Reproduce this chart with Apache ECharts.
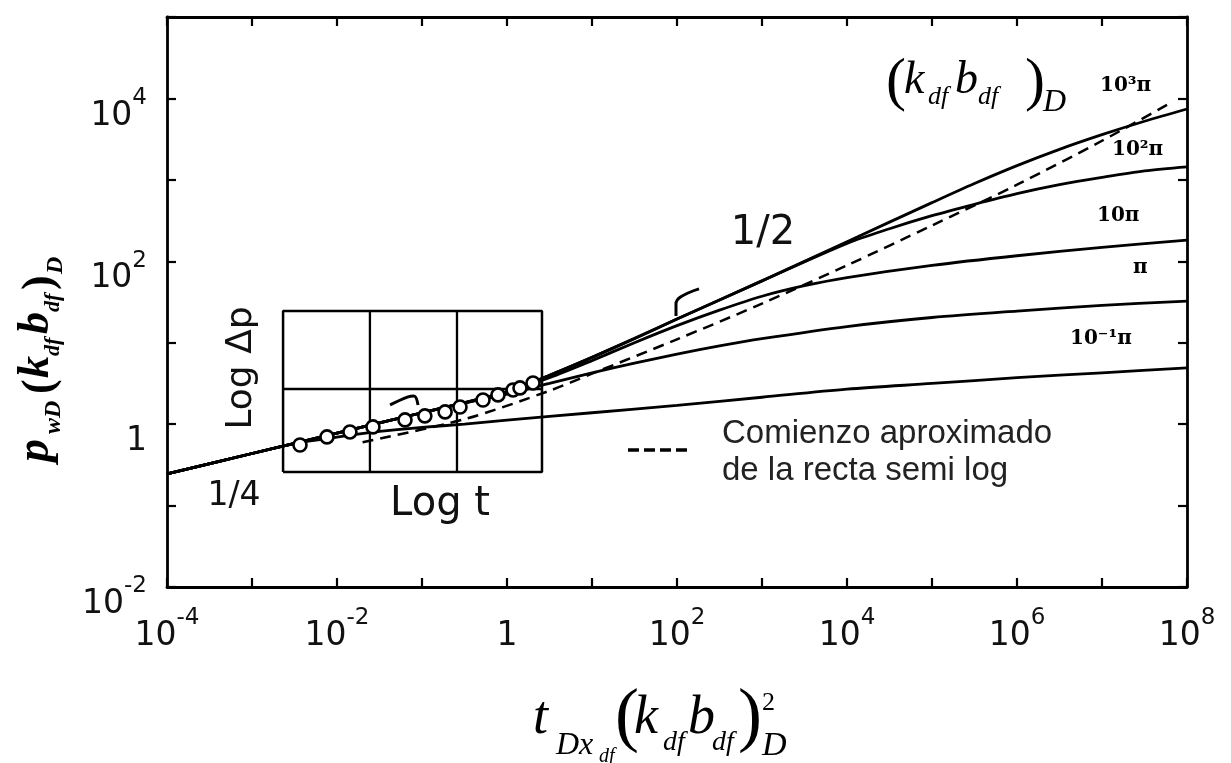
<!DOCTYPE html>
<html><head><meta charset="utf-8">
<script src="https://cdn.jsdelivr.net/npm/echarts@6/dist/echarts.min.js"></script>
<style>html,body{margin:0;padding:0;background:#fff}#c{width:1231px;height:763px}</style>
</head><body><div id="c"></div>
<script>
// ---- tick labels (exponents of 10 that carry a label) ----
const xLabelExps = [-4, -2, 0, 2, 4, 6, 8];
const yLabelExps = [-2, 0, 2, 4];
const curveNames = ['10³π', '10²π', '10π', 'π', '10⁻¹π'];

// ---- curves, [t, p] pairs ----
const curve1000pi = [[1e-4,0.245],[1e-3,0.436],[1e-2,0.776],[0.1,1.38],[1,2.51],[3.16,3.98],[10,6.61],[31.6,11.2],[100,19.5],[1e3,57.5],[1e4,174],[1e5,525],[3.16e5,902],[1e6,1496],[3.16e6,2371],[1e7,3589],[3.16e7,5248],[1e8,7413]];
const curve100pi = [[1e-4,0.245],[1e-3,0.436],[1e-2,0.776],[0.1,1.38],[1,2.51],[3.16,3.98],[10,6.61],[100,19.5],[1e3,57.5],[1e4,166],[3.16e4,251],[1e5,363],[3.16e5,501],[1e6,676],[3.16e6,871],[1e7,1072],[3.16e7,1288],[1e8,1445]];
const curve10pi = [[1e-4,0.245],[1e-3,0.436],[1e-2,0.776],[0.1,1.38],[1,2.45],[3.16,3.72],[10,6.03],[31.6,10.0],[100,16.2],[316,25.1],[1e3,37.2],[3.16e3,50.1],[1e4,63.1],[1e5,89.1],[1e6,117],[1e7,148],[1e8,182]];
const curve1pi = [[1e-4,0.245],[1e-3,0.436],[1e-2,0.776],[0.1,1.38],[0.316,1.82],[1,2.34],[3.16,3.16],[10,4.27],[31.6,5.62],[100,7.24],[316,9.12],[1e3,11.2],[1e4,15.8],[1e5,20.4],[1e6,24.5],[1e7,28.8],[1e8,32.4]];
const curve01pi = [[1e-4,0.245],[1e-3,0.436],[3.16e-3,0.575],[1e-2,0.692],[3.16e-2,0.813],[0.1,0.912],[0.316,1.0],[1,1.12],[10,1.38],[100,1.70],[1e3,2.14],[1e4,2.69],[1e5,3.16],[1e6,3.72],[1e7,4.27],[1e8,4.90]];
const semiLogStart = [[0.02,0.6],[0.316,1.15],[3.16,2.57],[10,4.17],[100,11.0],[1e3,30.2],[1e4,89.1],[1e5,275],[1e6,871],[1e7,3020],[6.3e7,8710]];
const fieldPoints = [[0.00367,0.555],[0.00762,0.697],[0.0142,0.802],[0.0265,0.925],[0.0631,1.127],[0.108,1.262],[0.187,1.413],[0.280,1.626],[0.522,1.982],[0.783,2.286],[1.178,2.630],[1.422,2.786],[2.023,3.206]];
// inset sketch (log t / log Δp) grid, in chart units
const insetX = [0.00232, 0.0244, 0.258, 2.58];
const insetY = [0.259, 2.70, 24.6];
const hookA = [[97.3,21.3],[97.3,30.0],[111,36.6],[181.6,45.8]];
const hookB = [[0.0421,1.72],[0.0684,2.16],[0.0805,2.22],[0.0898,1.72]];

const chart = echarts.init(document.getElementById('c'), null, {renderer:'canvas'});

function expOf(v){ return Math.round(Math.log10(v)); }
function fmt(list){
  return function(v){
    const e = expOf(v);
    if (list.indexOf(e) < 0) return '';
    if (e === 0) return '{n|1}';
    return '{n|10}{s|' + e + '}';
  };
}
const labelRich = {
  n: {fontSize: 33, fontFamily: 'DejaVu Sans', color: '#111', lineHeight: 46, verticalAlign: 'bottom'},
  s: {fontSize: 23, fontFamily: 'DejaVu Sans', color: '#111', lineHeight: 26, verticalAlign: 'top'}
};
const axLine = {show: true, onZero: false, lineStyle: {color: '#000', width: 2.8}};
const axTick = {show: true, inside: true, length: 9, lineStyle: {color: '#000', width: 2.2}};

function lineSeries(data, opts){
  opts = opts || {};
  return {
    type: 'line', data: data, xAxisIndex: 0, yAxisIndex: 0,
    symbol: 'none', smooth: opts.smooth === undefined ? 0.3 : opts.smooth,
    lineStyle: {color: '#000', width: opts.w || 2.8, type: opts.dash ? [11, 7] : 'solid'},
    silent: true, z: opts.z || 3
  };
}

const series = [
  lineSeries(curve01pi), lineSeries(curve1pi), lineSeries(curve10pi),
  lineSeries(curve100pi), lineSeries(curve1000pi),
  lineSeries(semiLogStart, {dash: true, w: 2.5}),
  lineSeries([[insetX[0],insetY[0]],[insetX[3],insetY[0]],[insetX[3],insetY[2]],[insetX[0],insetY[2]],[insetX[0],insetY[0]]], {smooth:false, w:2.5}),
  lineSeries([[insetX[1],insetY[0]],[insetX[1],insetY[2]]], {smooth:false, w:2.3}),
  lineSeries([[insetX[2],insetY[0]],[insetX[2],insetY[2]]], {smooth:false, w:2.3}),
  lineSeries([[insetX[0],insetY[1]],[insetX[3],insetY[1]]], {smooth:false, w:2.3}),
  lineSeries(hookA, {smooth:0.4, w:3}),
  lineSeries(hookB, {smooth:0.4, w:3}),
  {type:'scatter', data: fieldPoints, xAxisIndex:0, yAxisIndex:0, symbol:'circle', symbolSize: 13,
   itemStyle:{color:'#fff', borderColor:'#000', borderWidth:2.6, opacity:1}, z: 6, silent: true}
];

// ---- texts ----
function txt(s, x, base, size, o){
  o = o || {};
  return {type:'text', x: x, y: base - 0.34*size, z: 50, silent: true,
    style:{text: s, fontSize: size, fontFamily: o.f || 'Liberation Serif',
      fontStyle: o.i ? 'italic' : 'normal', fontWeight: o.b ? 'bold' : 'normal',
      fill: o.c || '#000', align: o.a || 'left', verticalAlign: 'middle'}};
}
const BI = {i:true, b:true};
const I = {i:true};
const yTitle = {type:'group', x: 52, y: 462, rotation: Math.PI/2, children: [
  txt('p', 0, 0, 46, BI), txt('wD', 28, 10, 24, BI), txt('(', 68, 4, 44, {b:true}),
  txt('k', 84, 0, 44, BI), txt('df', 106, 9, 22, BI), txt('b', 128, 0, 44, BI),
  txt('df', 150, 9, 22, BI), txt(')', 172, 4, 44, {b:true}), txt('D', 188, 12, 24, BI)
]};
const xTitle = [
  txt('t', 533, 737, 54, I), txt('Dx', 556, 756, 32, I), txt('df', 599, 764, 20, I),
  txt('(', 615, 744, 72), txt('k', 634, 737, 54, I), txt('df', 663, 752, 28, I),
  txt('b', 688, 737, 54, I), txt('df', 712, 752, 28, I), txt(')', 738, 744, 72),
  txt('2', 762, 712, 26), txt('D', 762, 758, 34, I)
];
const topTitle = [
  txt('(', 886, 104, 60), txt('k', 904, 97, 46, I), txt('df', 928, 106, 26, I),
  txt('b', 955, 97, 46, I), txt('df', 978, 106, 26, I), txt(')', 1025, 104, 60),
  txt('D', 1043, 113, 32, I)
];
const curveLabelPos = [[1100,93],[1112,157],[1097,223],[1133,275],[1070,346]];
const curveLabelTexts = curveNames.map(function(n, i){
  return txt(n, curveLabelPos[i][0], curveLabelPos[i][1], 20, {b:true, f:'DejaVu Serif'});
});
const misc = [
  {type:'group', x: 254, y: 368, rotation: Math.PI/2, children:[txt('Log Δp', 0, 0, 36, {f:'DejaVu Sans', c:'#111', a:'center'})]},
  txt('Log t', 440, 518, 40, {f:'DejaVu Sans', c:'#111', a:'center'}),
  txt('1/4', 234, 508, 33, {f:'DejaVu Sans', c:'#111', a:'center'}),
  txt('1/2', 763, 247, 40, {f:'DejaVu Sans', c:'#111', a:'center'}),
  {type:'line', z:50, silent:true, shape:{x1:628,y1:450,x2:690,y2:450}, style:{stroke:'#000', lineWidth:3.5, lineDash:[11,5]}},
  txt('Comienzo aproximado', 722, 445, 33, {f:'Liberation Sans', c:'#222'}),
  txt('de la recta semi log', 722, 482, 33, {f:'Liberation Sans', c:'#222'})
];

chart.setOption({
  animation: false,
  backgroundColor: '#fff',
  grid: {left: 167, right: 44, top: 17, bottom: 176, containLabel: false},
  xAxis: [
    {type:'log', logBase:10, min:1e-4, max:1e8, interval:1, splitNumber:12, position:'bottom',
     axisLine: axLine, axisTick: axTick, splitLine:{show:false}, minorTick:{show:false},
     axisLabel:{show:true, margin: 20, formatter: fmt(xLabelExps), rich: labelRich, showMinLabel:true, showMaxLabel:true, hideOverlap:false}},
    {type:'log', logBase:10, min:1e-4, max:1e8, interval:1, splitNumber:12, position:'top',
     axisLine: axLine, axisTick: axTick, splitLine:{show:false}, axisLabel:{show:false}}
  ],
  yAxis: [
    {type:'log', logBase:10, min:1e-2, max:1e5, interval:1, splitNumber:7, position:'left',
     axisLine: axLine, axisTick: axTick, splitLine:{show:false}, minorTick:{show:false},
     axisLabel:{show:true, margin: 20, padding:[22,0,0,0], formatter: fmt(yLabelExps), rich: labelRich, showMinLabel:true, showMaxLabel:true, hideOverlap:false}},
    {type:'log', logBase:10, min:1e-2, max:1e5, interval:1, splitNumber:7, position:'right',
     axisLine: axLine, axisTick: axTick, splitLine:{show:false}, axisLabel:{show:false}}
  ],
  series: series,
  graphic: [yTitle].concat(xTitle, topTitle, curveLabelTexts, misc)
});
</script></body></html>
